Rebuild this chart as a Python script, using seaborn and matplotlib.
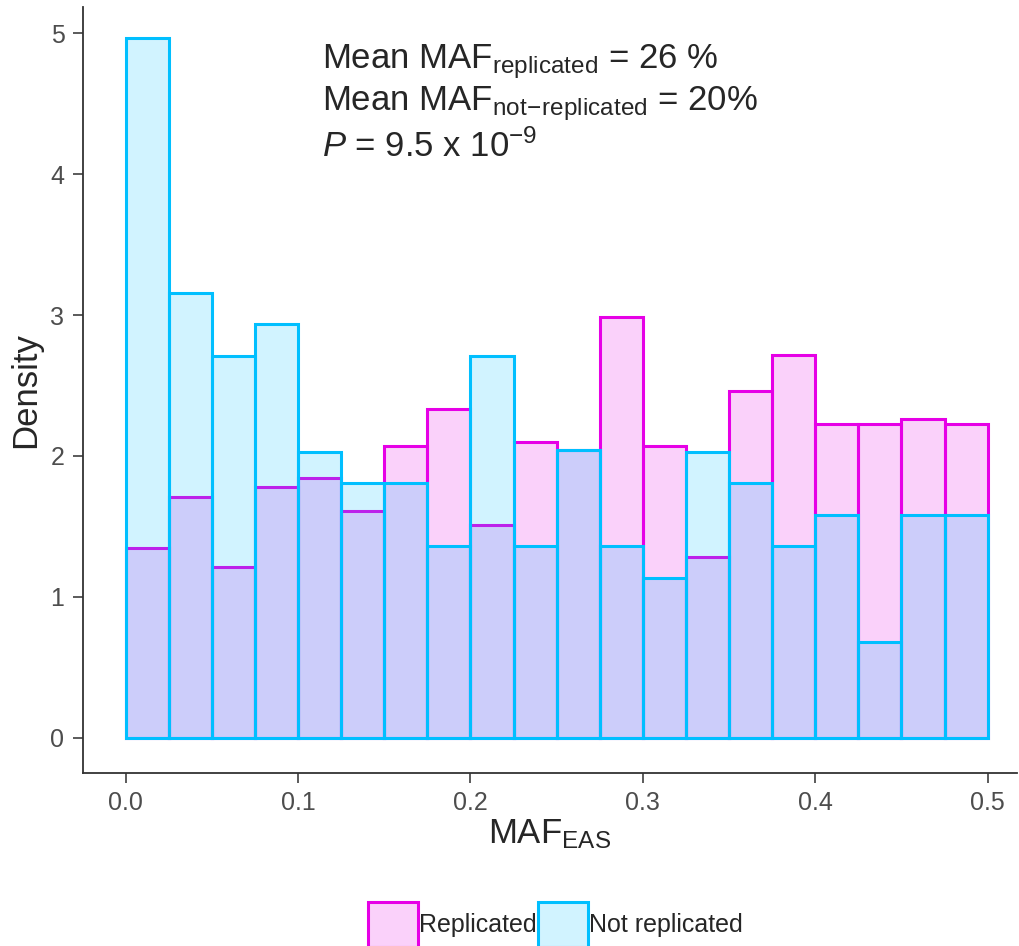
import numpy as np
import pandas as pd
import seaborn as sns
import matplotlib.pyplot as plt
from matplotlib.patches import Patch

# bin edges (MAF, width 0.025) and densities
edges = [round(0.025 * i, 3) for i in range(21)]
replicated = [1.35, 1.71, 1.21, 1.78, 1.84, 1.61, 2.07, 2.33, 1.51, 2.10,
              2.04, 2.99, 2.07, 1.28, 2.46, 2.72, 2.23, 2.23, 2.26, 2.23]
not_replicated = [4.97, 3.16, 2.71, 2.94, 2.03, 1.81, 1.81, 1.36, 2.71, 1.36,
                  2.04, 1.36, 1.13, 2.03, 1.81, 1.36, 1.58, 0.68, 1.58, 1.58]
centers = [(a + b) / 2 for a, b in zip(edges[:-1], edges[1:])]

df = pd.DataFrame({"maf": centers, "rep": replicated, "notrep": not_replicated})

sns.set_theme(style="ticks")
plt.rcParams["font.family"] = ["Liberation Sans", "DejaVu Sans"]
plt.rcParams["mathtext.fontset"] = "custom"
plt.rcParams["mathtext.rm"] = "Liberation Sans"
plt.rcParams["mathtext.it"] = "Liberation Sans:italic"

mag = "#e600e6"
cyan = "#00bfff"
mag_fill = (230/255, 0, 230/255, 0.18)
cyan_fill = (0, 191/255, 1, 0.18)

fig = plt.figure(figsize=(10.19, 9.46), dpi=100)
ax = fig.add_axes([0.081, 0.183, 0.917, 0.81])

sns.histplot(data=df, x="maf", weights="rep", bins=edges, stat="count",
             facecolor=mag_fill, edgecolor=mag, linewidth=2.2, ax=ax)
sns.histplot(data=df, x="maf", weights="notrep", bins=edges, stat="count",
             facecolor=cyan_fill, edgecolor=cyan, linewidth=2.2, ax=ax)

ax.set_xlim(-0.025, 0.517)
ax.set_ylim(-0.25, 5.19)
ax.set_xticks([0, 0.1, 0.2, 0.3, 0.4, 0.5])
ax.set_xticklabels(["0.0", "0.1", "0.2", "0.3", "0.4", "0.5"])
ax.set_yticks([0, 1, 2, 3, 4, 5])
ax.tick_params(labelsize=18, colors="#4d4d4d", length=7, width=1.3, pad=6)
for s in ["left", "bottom"]:
    ax.spines[s].set_color("#333333")
    ax.spines[s].set_linewidth(1.3)
sns.despine(ax=ax)

ax.set_xlabel(r"MAF$_{\mathrm{EAS}}$", fontsize=25, labelpad=2)
ax.set_ylabel("Density", fontsize=25, labelpad=6)

ax.text(0.114, 4.80, r"Mean MAF$_{\mathrm{replicated}}$ = 26 %", fontsize=25,
        va="center", ha="left")
ax.text(0.114, 4.50, r"Mean MAF$_{\mathrm{not\!-\!replicated}}$ = 20%", fontsize=25,
        va="center", ha="left")
ax.text(0.114, 4.20, r"$P$ = 9.5 x 10$^{-9}$", fontsize=25,
        va="center", ha="left")

handles = [Patch(facecolor=mag_fill, edgecolor=mag, linewidth=2.2),
           Patch(facecolor=cyan_fill, edgecolor=cyan, linewidth=2.2)]
fig.legend(handles, ["Replicated", "Not replicated"], loc="lower center",
           bbox_to_anchor=(0.545, -0.012), ncol=2, frameon=False, fontsize=18,
           handlelength=2.0, handleheight=2.4, handletextpad=0.05,
           columnspacing=0.05, borderaxespad=0)

fig.savefig("out.png", dpi=100)
